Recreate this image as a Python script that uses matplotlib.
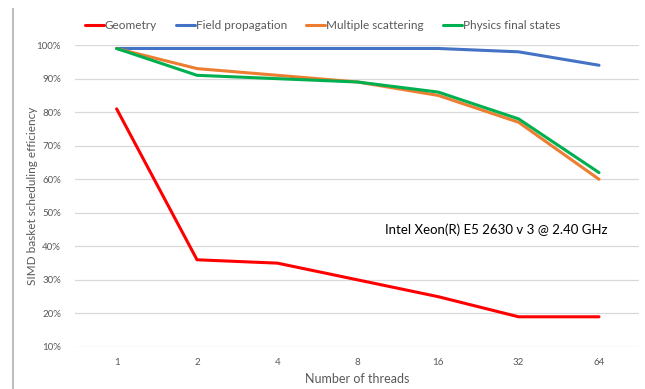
import matplotlib
matplotlib.use("Agg")
import matplotlib.pyplot as plt
from matplotlib.lines import Line2D

plt.rcParams['font.family'] = ['Lato', 'DejaVu Sans']

threads = ["1", "2", "4", "8", "16", "32", "64"]
geometry = [81, 36, 35, 30, 25, 19, 19]
field_prop = [99, 99, 99, 99, 99, 98, 94]
mult_scat = [99, 93, 91, 89, 85, 77, 60]
phys_final = [99, 91, 90, 89, 86, 78, 62]

series = [
    ("Geometry", geometry, "#ff0000"),
    ("Field propagation", field_prop, "#4472c4"),
    ("Multiple scattering", mult_scat, "#ed7d31"),
    ("Physics final states", phys_final, "#00b050"),
]

fig = plt.figure(figsize=(6.45, 3.89), dpi=100)
ax = fig.add_axes([0.116, 0.108, 0.875, 0.776])

x = list(range(len(threads)))
for name, vals, col in series:
    ax.plot(x, vals, color=col, lw=2.2, label=name, solid_capstyle="round")

ax.set_xlim(-0.52, 6.5)
ax.set_ylim(10, 100)
ax.set_yticks(range(10, 101, 10))
ax.set_yticklabels([f"{v}%" for v in range(10, 101, 10)])
ax.set_xticks(x)
ax.set_xticklabels(threads)
ax.grid(axis="y", color="#d9d9d9", lw=0.9)
ax.set_axisbelow(True)
for s in ax.spines.values():
    s.set_visible(False)
ax.tick_params(length=0, labelsize=7, colors="#595959", pad=8)
ax.tick_params(axis="y", pad=10)

ax.set_xlabel("Number of threads", fontsize=9, color="#595959", labelpad=4)
ax.set_ylabel("SIMD basket scheduling efficiency", fontsize=8.5, color="#595959", labelpad=-1)

ax.text(0.746, 0.387, "Intel Xeon(R) E5 2630 v 3 @ 2.40 GHz", transform=ax.transAxes,
        ha="center", va="center", fontsize=9.5, color="#000000")

fig.legend(loc="upper center", bbox_to_anchor=(0.5, 0.975), ncol=4, frameon=False,
           fontsize=8.5, handlelength=1.6, handletextpad=0.1, columnspacing=1.6,
           labelcolor="#595959")

# left border line of the screenshot
fig.add_artist(Line2D([0.02, 0.02], [0.0, 0.977], color="#bfbfbf", lw=1.5,
                      transform=fig.transFigure))

fig.savefig("out.png", dpi=100)
